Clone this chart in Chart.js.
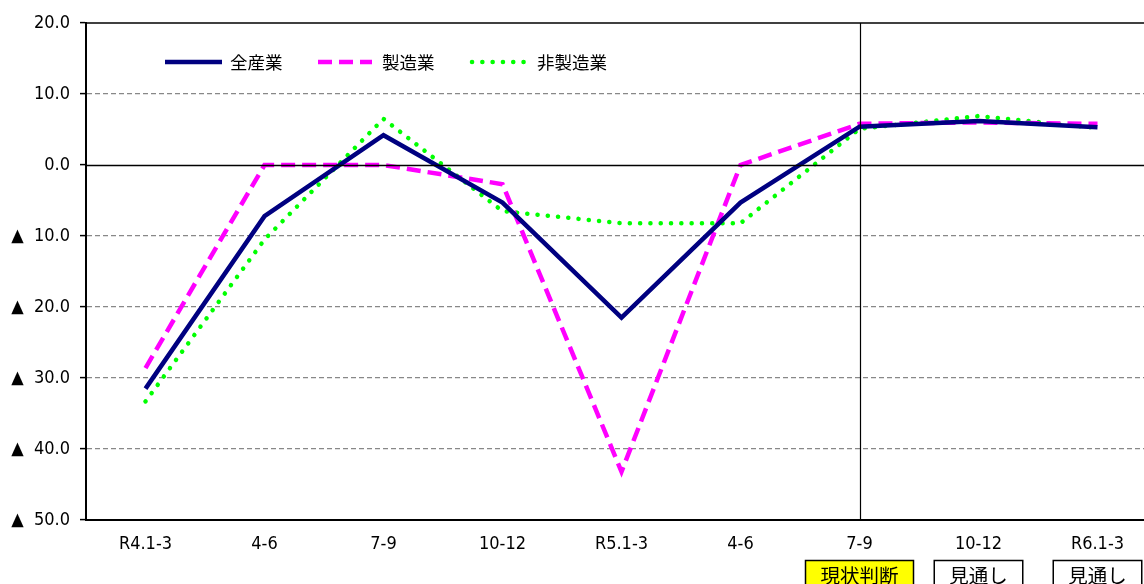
<!DOCTYPE html>
<html><head><meta charset="utf-8">
<script src="https://cdn.jsdelivr.net/npm/chart.js@4"></script>
<style>
html,body{margin:0;padding:0;overflow:hidden;background:#fff;width:1144px;height:584px}
#wrap{position:absolute;left:0;top:0;width:1160px;height:584px}
</style>
</head><body><div id="wrap"><canvas id="c"></canvas></div>
<script>
const categories = ['R4.1-3','4-6','7-9','10-12','R5.1-3','4-6','7-9','10-12','R6.1-3'];
const seriesNames = ['全産業','製造業','非製造業'];
const allIndustries = [-31.5,-7.2,4.2,-5.3,-21.5,-5.3,5.4,6.2,5.3];
const manufacturing = [-28.6,0.0,0.0,-2.7,-43.2,0.0,5.8,6.0,5.8];
const nonManufacturing = [-33.3,-10.5,6.5,-6.5,-8.2,-8.2,5.1,6.9,5.2];
const yTicks = [20,10,0,-10,-20,-30,-40,-50];
const periodLabels = [
  {index:6, text:'現状判断', fill:'#ffff00'},
  {index:7, text:'見通し', fill:'#ffffff'},
  {index:8, text:'見通し', fill:'#ffffff'}
];
const dividerIndex = 6;

const FONT = "'Noto Sans CJK JP','Noto Sans',sans-serif";
const NUMFONT = "'Liberation Sans Narrow','DejaVu Sans Condensed','Noto Sans CJK JP',sans-serif";

const decorPlugin = {
  id:'decor',
  afterDatasetsDraw(chart){
    const {ctx, chartArea:a, scales:{x,y}} = chart;
    ctx.save();
    ctx.strokeStyle = '#000';
    ctx.lineWidth = 1.5;
    ctx.setLineDash([]);
    const y0 = Math.round(y.getPixelForValue(0)) + 0.5;
    ctx.beginPath(); ctx.moveTo(a.left, y0); ctx.lineTo(a.right, y0); ctx.stroke();
    ctx.beginPath(); ctx.moveTo(a.left, a.top); ctx.lineTo(a.right, a.top); ctx.stroke();
    ctx.beginPath(); ctx.moveTo(a.right, a.top); ctx.lineTo(a.right, a.bottom); ctx.stroke();
    const xd = Math.round(x.getPixelForValue(dividerIndex)) + 0.5;
    ctx.lineWidth = 1.2;
    ctx.beginPath(); ctx.moveTo(xd, a.top); ctx.lineTo(xd, a.bottom); ctx.stroke();
    ctx.restore();
  },
  afterDraw(chart){
    const {ctx, scales:{x}} = chart;
    ctx.save();
    const items = [{x0:165,x1:222,tx:230},{x0:318,x1:372,tx:382},{x0:472,x1:527,tx:537}];
    const ly = 62;
    chart.data.datasets.forEach((ds,i)=>{
      const it = items[i];
      ctx.strokeStyle = ds.borderColor;
      ctx.lineWidth = ds.borderWidth;
      ctx.lineCap = ds.borderCapStyle || 'butt';
      ctx.setLineDash(ds.borderDash || []);
      ctx.beginPath(); ctx.moveTo(it.x0, ly); ctx.lineTo(it.x1, ly); ctx.stroke();
      ctx.setLineDash([]);
      ctx.fillStyle = '#000';
      ctx.font = '17.5px ' + FONT;
      ctx.textAlign = 'left'; ctx.textBaseline = 'middle';
      ctx.fillText(ds.label, it.tx, ly);
    });
    ctx.font = '19.5px ' + FONT;
    periodLabels.forEach(p=>{
      const cx = x.getPixelForValue(p.index);
      const tw = ctx.measureText(p.text).width;
      const w = tw + 30;
      const top = 560.5;
      ctx.fillStyle = p.fill;
      ctx.fillRect(cx - w/2, top, w, 40);
      ctx.strokeStyle = '#000'; ctx.lineWidth = 1.5;
      ctx.strokeRect(cx - w/2, top, w, 40);
      ctx.fillStyle = '#000';
      ctx.textAlign = 'center'; ctx.textBaseline = 'middle';
      ctx.fillText(p.text, cx, top + 15);
    });
    ctx.restore();
  }
};

new Chart(document.getElementById('c'), {
  type:'line',
  data:{
    labels: categories,
    datasets:[
      {label:seriesNames[0], data:allIndustries, borderColor:'#000080', borderWidth:4.5, pointRadius:0, tension:0, fill:false, borderCapStyle:'butt', borderJoinStyle:'miter'},
      {label:seriesNames[1], data:manufacturing, borderColor:'#ff00ff', borderWidth:4.5, borderDash:[14,7], pointRadius:0, tension:0, fill:false, borderCapStyle:'butt'},
      {label:seriesNames[2], data:nonManufacturing, borderColor:'#00ff00', borderWidth:4.5, borderDash:[0.1,10.2], borderCapStyle:'round', pointRadius:0, tension:0, fill:false}
    ]
  },
  options:{
    responsive:true, maintainAspectRatio:false, animation:false,
    devicePixelRatio:1,
    layout:{padding:{top:23,left:0,right:3,bottom:0}},
    plugins:{legend:{display:false}, tooltip:{enabled:false}},
    scales:{
      x:{
        type:'category', offset:true,
        grid:{display:false, drawTicks:false},
        border:{display:true, color:'#000', width:2},
        ticks:{color:'#000', font:{family:NUMFONT, size:18}, padding:14, maxRotation:0, autoSkip:false},
        afterFit(s){ s.height = 64; }
      },
      y:{
        min:-50, max:20,
        afterBuildTicks(s){ s.ticks = yTicks.map(v=>({value:v})); },
        ticks:{
          color:'#000', font:{family:NUMFONT, size:18}, padding:10,
          callback:(v)=> v < 0 ? '▲  ' + Math.abs(v).toFixed(1) : v.toFixed(1)
        },
        grid:{
          color:(c)=>{ const v = c.tick && c.tick.value; return (v===0||v===20||v===-50) ? 'rgba(0,0,0,0)' : '#888'; },
          lineWidth:1.2, drawTicks:true, tickLength:6, tickColor:'#000', tickWidth:1.5
        },
        border:{display:true, color:'#000', width:2, dash:[5,3]},
        afterFit(s){ s.width = 86; }
      }
    }
  },
  plugins:[decorPlugin]
});
</script>
</body></html>
